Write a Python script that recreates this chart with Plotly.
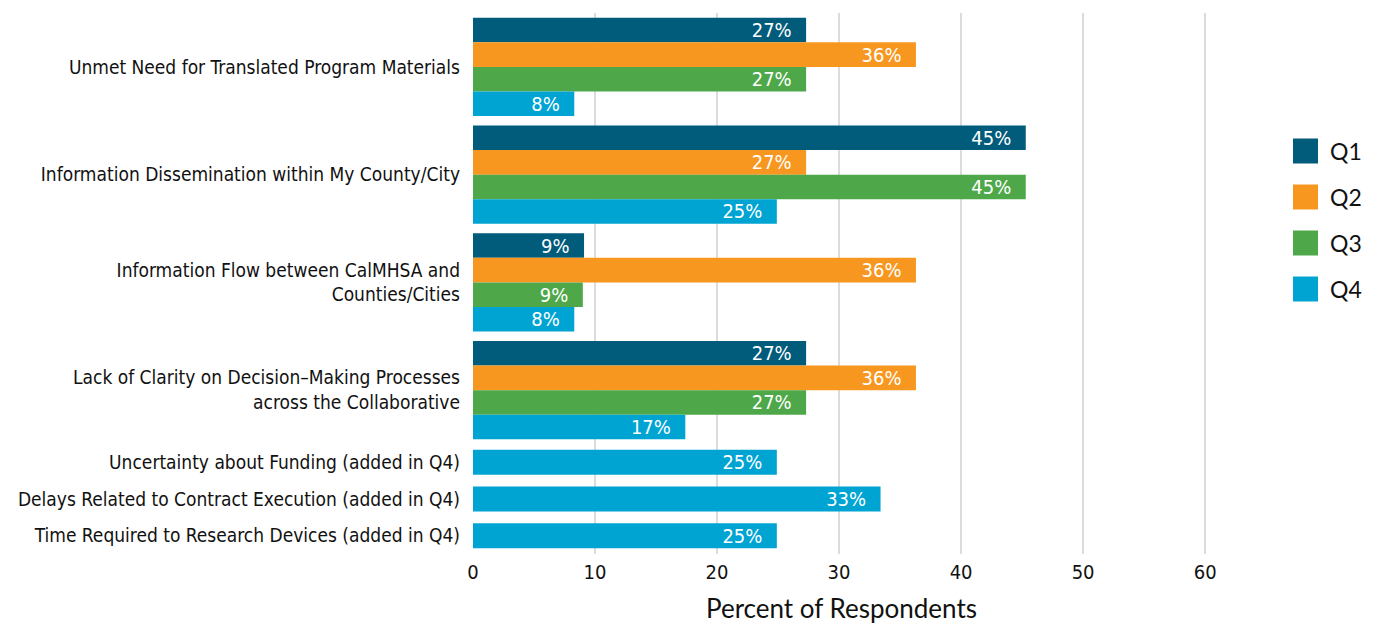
import plotly.graph_objects as go
from plotly.subplots import make_subplots

# ---- data ----
categories = [
    "Unmet Need for Translated Program Materials",
    "Information Dissemination within My County/City",
    "Information Flow between CalMHSA and<br>Counties/Cities",
    "Lack of Clarity on Decision\u2013Making Processes<br>across the Collaborative",
]
quarters = ["Q1", "Q2", "Q3", "Q4"]
q1_values = [27.3, 45.3, 9.1, 27.3]
q2_values = [36.3, 27.3, 36.3, 36.3]
q3_values = [27.3, 45.3, 9.0, 27.3]
q4_values = [8.3, 24.9, 8.3, 17.4]

added_categories = [
    "Uncertainty about Funding (added in Q4)",
    "Delays Related to Contract Execution (added in Q4)",
    "Time Required to Research Devices (added in Q4)",
]
q4_added_values = [24.9, 33.4, 24.9]

x_ticks = [0, 10, 20, 30, 40, 50, 60]
x_title = "Percent of Respondents"

colors = {"Q1": "#015B7B", "Q2": "#F8971F", "Q3": "#4EA849", "Q4": "#00A4D3"}

NARROW = "DejaVu Sans Condensed, Liberation Sans Narrow, Arial Narrow, sans-serif"
ROUND = "Lato, Open Sans, sans-serif"


def labels(vals):
    return [f"{int(v + 0.5)}%\u00a0\u00a0" for v in vals]


fig = make_subplots(rows=2, cols=1, shared_xaxes=True, vertical_spacing=0,
                    row_heights=[431, 110])

series = [q1_values, q2_values, q3_values, q4_values]
for q, vals in zip(quarters, series):
    fig.add_trace(go.Bar(
        y=categories, x=vals, orientation="h", name=q,
        marker=dict(color=colors[q], line=dict(width=0)),
        text=labels(vals), textposition="inside", insidetextanchor="end",
        textfont=dict(color="white", size=20, family=NARROW),
        constraintext="none", showlegend=False,
    ), row=1, col=1)

fig.add_trace(go.Bar(
    y=added_categories, x=q4_added_values, orientation="h", name="Q4",
    marker=dict(color=colors["Q4"], line=dict(width=0)), width=0.68,
    text=labels(q4_added_values), textposition="inside", insidetextanchor="end",
    textfont=dict(color="white", size=20, family=NARROW),
    constraintext="none", showlegend=False,
), row=2, col=1)

# page body has an 8px default margin: figure coordinates = screen - 8
OFF = 8
W, H = 1379 - OFF, 624 - OFF
L, R, T, B = 473 - OFF, 1210 - OFF, 13 - OFF, 554 - OFF

fig.update_layout(
    width=W, height=H,
    margin=dict(l=L, r=W - R, t=T, b=H - B, autoexpand=False),
    plot_bgcolor="white", paper_bgcolor="white",
    barmode="group", bargap=0.09, bargroupgap=0,
    showlegend=False,
    font=dict(family=NARROW, color="#111111"),
)

for ax in ["xaxis", "xaxis2"]:
    fig.layout[ax].update(
        range=[0, 60.4], tickvals=x_ticks, showgrid=True, gridcolor="#dcdcdc",
        gridwidth=2, zeroline=False, showline=False, ticks="", automargin=False,
    )
fig.layout.xaxis.update(showticklabels=False)
fig.layout.xaxis2.update(
    tickfont=dict(family=NARROW, size=20, color="#111111"),
    ticklabelstandoff=4,
    title=dict(text=x_title, font=dict(family=ROUND, size=26, color="#111111"),
               standoff=16),
)

for ax, cats in [("yaxis", categories), ("yaxis2", added_categories)]:
    fig.layout[ax].update(
        categoryorder="array", categoryarray=cats, autorange="reversed",
        tickfont=dict(family=NARROW, size=19, color="#111111"),
        ticks="", showgrid=False, ticklabelstandoff=12, automargin=False,
    )


def xp(px):
    return (px - OFF - L) / (R - L)


def yp(py):
    return (B - (py - OFF)) / (B - T)


shapes = []
annotations = []
for i, q in enumerate(quarters):
    cy = 151 + 46 * i
    shapes.append(dict(type="rect", xref="paper", yref="paper",
                       x0=xp(1293), x1=xp(1318), y0=yp(cy + 12.5), y1=yp(cy - 12.5),
                       fillcolor=colors[q], line=dict(width=0)))
    annotations.append(dict(xref="paper", yref="paper", x=xp(1328), y=yp(cy),
                            xanchor="left", yanchor="middle", showarrow=False,
                            text=q, font=dict(family=ROUND, size=23, color="#111111")))
fig.update_layout(shapes=shapes, annotations=annotations)

fig.write_html("out.html")
